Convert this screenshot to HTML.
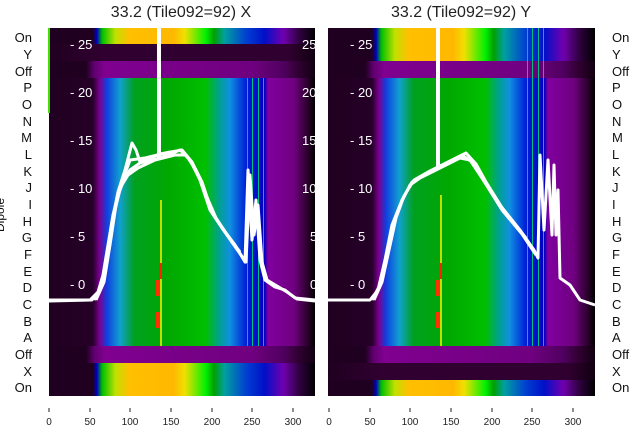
<!DOCTYPE html>
<html><head><style>body{margin:0;background:#fff;}svg{display:block;font-family:"Liberation Sans","DejaVu Sans",sans-serif;}</style></head>
<body>
<svg width="640" height="440" viewBox="0 0 640 440" xmlns="http://www.w3.org/2000/svg">
<defs>
<linearGradient id="band" x1="0" x2="1" y1="0" y2="0">
<stop offset="0" stop-color="#200020"/><stop offset=".165" stop-color="#250028"/><stop offset=".19" stop-color="#7a0090"/><stop offset=".218" stop-color="#1040e0"/><stop offset=".267" stop-color="#10a0d0"/><stop offset=".32" stop-color="#00a020"/><stop offset=".45" stop-color="#00a800"/><stop offset=".59" stop-color="#00c000"/><stop offset=".64" stop-color="#00a090"/><stop offset=".68" stop-color="#1090e0"/><stop offset=".74" stop-color="#0020d8"/><stop offset=".81" stop-color="#0000c0"/><stop offset=".823" stop-color="#8000a0"/><stop offset=".92" stop-color="#700080"/><stop offset=".98" stop-color="#200020"/><stop offset="1" stop-color="#000"/>
</linearGradient>
<linearGradient id="on" x1="0" x2="1" y1="0" y2="0">
<stop offset="0" stop-color="#200020"/><stop offset=".165" stop-color="#200020"/><stop offset=".18" stop-color="#0000c0"/><stop offset=".2" stop-color="#00c000"/><stop offset=".25" stop-color="#c0e000"/><stop offset=".3" stop-color="#ffc000"/><stop offset=".47" stop-color="#ffb800"/><stop offset=".51" stop-color="#f0e000"/><stop offset=".59" stop-color="#00f000"/><stop offset=".62" stop-color="#00a000"/><stop offset=".66" stop-color="#00a0a0"/><stop offset=".74" stop-color="#0040d0"/><stop offset=".81" stop-color="#0010c8"/><stop offset=".88" stop-color="#7000b0"/><stop offset=".94" stop-color="#300040"/><stop offset="1" stop-color="#000"/>
</linearGradient>
<linearGradient id="off" x1="0" x2="1" y1="0" y2="0">
<stop offset="0" stop-color="#200020"/><stop offset=".14" stop-color="#200020"/><stop offset=".17" stop-color="#600070"/><stop offset=".21" stop-color="#800090"/><stop offset=".76" stop-color="#700080"/><stop offset=".88" stop-color="#500060"/><stop offset=".94" stop-color="#300030"/><stop offset="1" stop-color="#100010"/>
</linearGradient>
<linearGradient id="dk" x1="0" x2="1" y1="0" y2="0">
<stop offset="0" stop-color="#200020"/><stop offset=".2" stop-color="#300030"/><stop offset=".9" stop-color="#300030"/><stop offset="1" stop-color="#100010"/>
</linearGradient>
</defs>

<text x="181" y="17" font-size="16" text-anchor="middle" fill="#222">33.2 (Tile092=92) X</text>
<text x="461" y="17" font-size="16" text-anchor="middle" fill="#222">33.2 (Tile092=92) Y</text>

<!-- left panel -->
<g>
<rect x="49" y="28" width="266" height="16" fill="url(#on)"/>
<rect x="49" y="44" width="266" height="17" fill="url(#dk)"/>
<rect x="49" y="61" width="266" height="17" fill="url(#off)"/>
<rect x="49" y="78" width="266" height="268" fill="url(#band)"/>
<rect x="49" y="346" width="266" height="17" fill="url(#off)"/>
<rect x="49" y="363" width="266" height="33" fill="url(#on)"/>
<rect x="48" y="28" width="2" height="85" fill="#40e000"/>
<g fill="#00c080"><rect x="247" y="78" width="1" height="268"/><rect x="252" y="78" width="1" height="268"/><rect x="258" y="78" width="1" height="268"/><rect x="263" y="78" width="1" height="268"/></g>
<rect x="160" y="200" width="2" height="146" fill="#c0e000"/>
<rect x="159" y="263" width="3" height="16" fill="#ff2000"/><rect x="156" y="280" width="4" height="16" fill="#ff3000"/><rect x="156" y="312" width="4" height="16" fill="#ff3000"/>
<g fill="#fff" font-size="13"><text x="70" y="49">- 25</text><text x="70" y="97">- 20</text><text x="70" y="145">- 15</text><text x="70" y="193">- 10</text><text x="70" y="241">- 5</text><text x="70" y="289">- 0</text>
<text x="302" y="49">25</text><text x="302" y="97">20</text><text x="302" y="145">15</text><text x="302" y="193">10</text><text x="310" y="241">5</text><text x="310" y="289">0</text></g>
<g fill="none" stroke="#fff" stroke-width="3" stroke-linejoin="round">
<polyline points="49,300 90,300 98,292 103,275 108,245 113,215 118,195 124,180 130,170 140,163 160,158 180,150 190,160 200,180 210,210 220,225 235,245 245,262 248,170 252,240 256,200 260,260 265,280 275,287 285,290 295,298 315,300"/>
<polyline points="49,301 92,300 100,290 106,262 112,222 118,192 125,170 132,143 136,150 140,162 160,154 182,150 192,162 202,182 212,212 222,228 236,248 246,262 250,175 254,235 258,205 262,262 267,280 277,286 287,292 297,299 315,301"/>
<polyline points="94,300 102,286 108,252 114,215 120,188 128,175 138,168 155,160 175,155 186,155 196,170 206,195 216,218 228,236 240,252"/>
<polyline points="96,300 104,282 110,245 116,205 122,182 130,160 145,158 170,152"/>
</g>
<rect x="157" y="28" width="4" height="132" fill="#fff"/>
</g>

<!-- right panel -->
<g>
<rect x="328" y="28" width="267" height="33" fill="url(#on)"/>
<rect x="328" y="61" width="267" height="17" fill="url(#off)"/>
<rect x="328" y="78" width="267" height="268" fill="url(#band)"/>
<rect x="328" y="346" width="267" height="17" fill="url(#off)"/>
<rect x="328" y="363" width="267" height="17" fill="url(#dk)"/>
<rect x="328" y="380" width="267" height="16" fill="url(#on)"/>
<g fill="#00c080"><rect x="527" y="28" width="1" height="318"/><rect x="532" y="28" width="1" height="318"/><rect x="538" y="28" width="1" height="318"/><rect x="543" y="28" width="1" height="318"/></g>
<rect x="440" y="195" width="2" height="151" fill="#c0e000"/>
<rect x="440" y="263" width="2" height="16" fill="#ff2000"/><rect x="436" y="280" width="4" height="16" fill="#ff3000"/><rect x="436" y="312" width="4" height="16" fill="#ff3000"/>
<g fill="#fff" font-size="13"><text x="350" y="49">- 25</text><text x="350" y="97">- 20</text><text x="350" y="145">- 15</text><text x="350" y="193">- 10</text><text x="350" y="241">- 5</text><text x="350" y="289">- 0</text></g>
<g fill="none" stroke="#fff" stroke-width="3" stroke-linejoin="round">
<polyline points="328,300 370,300 378,290 385,260 392,225 400,205 410,185 420,178 440,168 460,158 470,160 480,175 500,205 520,230 534,250 538,258 540,155 544,230 548,160 552,235 554,165 556,235 558,190 560,278 570,285 580,300 595,305"/>
<polyline points="372,300 380,285 387,255 394,222 402,200 412,182 424,175 444,165 462,155 472,162 482,178 502,210 522,234 536,255"/>
<polyline points="374,300 382,282 389,250 396,218 404,196 414,180 428,172 448,162 466,153 476,164 486,182 506,214 526,238"/>
</g>
<rect x="436" y="28" width="4" height="140" fill="#fff"/>
</g>

<!-- row labels -->
<g font-size="13" fill="#111" text-anchor="end">
<text x="32" y="42">On</text><text x="32" y="59">Y</text><text x="32" y="76">Off</text><text x="32" y="92">P</text><text x="32" y="109">O</text><text x="32" y="126">N</text><text x="32" y="142">M</text><text x="32" y="159">L</text><text x="32" y="176">K</text><text x="32" y="192">J</text><text x="32" y="209">I</text><text x="32" y="226">H</text><text x="32" y="242">G</text><text x="32" y="259">F</text><text x="32" y="276">E</text><text x="32" y="292">D</text><text x="32" y="309">C</text><text x="32" y="326">B</text><text x="32" y="342">A</text><text x="32" y="359">Off</text><text x="32" y="376">X</text><text x="32" y="392">On</text>
</g>
<g font-size="13" fill="#111">
<text x="612" y="42">On</text><text x="612" y="59">Y</text><text x="612" y="76">Off</text><text x="612" y="92">P</text><text x="612" y="109">O</text><text x="612" y="126">N</text><text x="612" y="142">M</text><text x="612" y="159">L</text><text x="612" y="176">K</text><text x="612" y="192">J</text><text x="612" y="209">I</text><text x="612" y="226">H</text><text x="612" y="242">G</text><text x="612" y="259">F</text><text x="612" y="276">E</text><text x="612" y="292">D</text><text x="612" y="309">C</text><text x="612" y="326">B</text><text x="612" y="342">A</text><text x="612" y="359">Off</text><text x="612" y="376">X</text><text x="612" y="392">On</text>
</g>
<text x="4" y="215" font-size="12" fill="#111" transform="rotate(-90 4 215)" text-anchor="middle">Dipole</text>

<!-- x ticks -->
<g stroke="#222" stroke-width="1">
<line x1="49" y1="408" x2="49" y2="412"/><line x1="90" y1="408" x2="90" y2="412"/><line x1="130" y1="408" x2="130" y2="412"/><line x1="171" y1="408" x2="171" y2="412"/><line x1="212" y1="408" x2="212" y2="412"/><line x1="252" y1="408" x2="252" y2="412"/><line x1="293" y1="408" x2="293" y2="412"/>
<line x1="329" y1="408" x2="329" y2="412"/><line x1="370" y1="408" x2="370" y2="412"/><line x1="410" y1="408" x2="410" y2="412"/><line x1="451" y1="408" x2="451" y2="412"/><line x1="492" y1="408" x2="492" y2="412"/><line x1="532" y1="408" x2="532" y2="412"/><line x1="573" y1="408" x2="573" y2="412"/>
</g>
<g font-size="10" fill="#222" text-anchor="middle">
<text x="49" y="425">0</text><text x="90" y="425">50</text><text x="130" y="425">100</text><text x="171" y="425">150</text><text x="212" y="425">200</text><text x="252" y="425">250</text><text x="293" y="425">300</text>
<text x="329" y="425">0</text><text x="370" y="425">50</text><text x="410" y="425">100</text><text x="451" y="425">150</text><text x="492" y="425">200</text><text x="532" y="425">250</text><text x="573" y="425">300</text>
</g>
</svg>
</body></html>
